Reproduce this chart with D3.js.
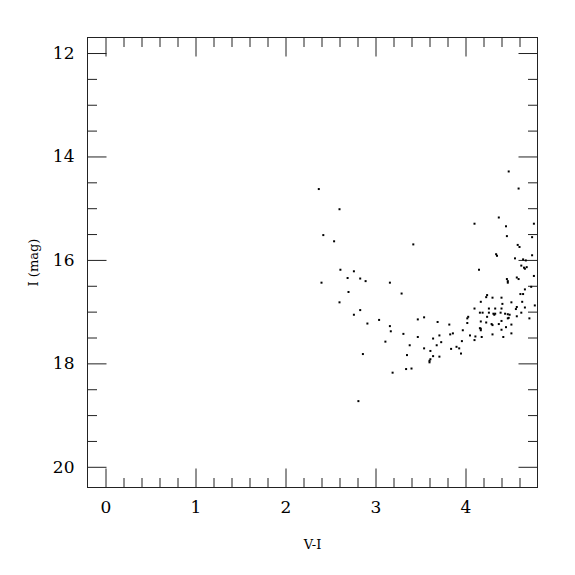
<!DOCTYPE html>
<html>
<head>
<meta charset="utf-8">
<script src="https://cdn.jsdelivr.net/npm/d3@7"></script>
<style>
  body { margin: 0; background: #fff; }
  svg text { font-family: "DejaVu Serif", serif; fill: #000; }
</style>
</head>
<body>
<div id="chart"></div>
<script>
// colour index V-I and I magnitude of each star
const viColor = [
  2.37, 2.60, 2.42, 2.54, 2.61, 2.76, 2.69, 2.83, 2.40, 2.89, 3.16, 2.70, 3.29, 2.60, 2.83,
  2.76, 2.91, 3.04, 3.16, 3.17, 3.31, 3.11, 3.38, 3.35, 2.86, 3.34, 3.19, 2.81, 3.40,
  4.48, 4.59, 4.37, 4.10, 4.45, 4.76, 4.46, 4.74, 3.42, 4.58, 4.60, 4.34, 4.35, 4.74, 4.55,
  4.64, 4.67, 4.62, 4.65, 4.68, 4.66, 4.15, 4.76, 4.46, 4.47, 4.47, 4.57, 4.59,
  4.73, 4.66, 4.61, 4.64, 4.24, 4.23, 4.30, 4.40, 4.51, 4.63, 4.17, 4.77, 4.41, 4.10, 4.26,
  4.40, 4.33, 4.57, 4.56, 4.66, 4.26, 4.16, 4.19, 4.62, 4.31, 4.32, 4.33, 4.39, 4.44, 4.47,
  4.49, 4.57, 4.03, 4.02, 4.24, 4.47, 4.48, 4.71, 4.17, 4.23, 4.29, 4.30, 4.37, 4.40, 4.45,
  4.51, 4.16, 4.17, 4.17, 4.40, 3.97, 4.51, 4.05, 4.11, 4.18, 4.30, 4.42, 4.10, 4.02, 3.96,
  3.90, 3.93, 3.95,
  3.82, 3.69, 3.54, 3.47, 3.86, 3.83, 3.71, 3.47, 3.64, 3.73, 3.68, 3.54, 3.84, 3.61, 3.64,
  3.71, 3.61, 3.60, 3.60
];
const iMag = [
  14.63, 15.02, 15.52, 15.64, 16.19, 16.22, 16.35, 16.36, 16.44, 16.41, 16.44, 16.62, 16.65, 16.82, 16.97,
  17.06, 17.23, 17.16, 17.28, 17.38, 17.43, 17.58, 17.65, 17.84, 17.82, 18.11, 18.18, 18.73, 18.10,
  14.29, 14.62, 15.18, 15.30, 15.35, 15.30, 15.54, 15.56, 15.70, 15.71, 15.75, 15.89, 15.92, 15.91, 15.97,
  15.99, 16.01, 16.11, 16.15, 16.14, 16.17, 16.19, 16.31, 16.37, 16.41, 16.44, 16.34, 16.37,
  16.52, 16.57, 16.66, 16.66, 16.68, 16.72, 16.73, 16.73, 16.82, 16.81, 16.81, 16.88, 16.85, 16.94, 16.94,
  16.94, 16.94, 16.91, 16.95, 16.92, 17.02, 17.02, 17.02, 17.02, 17.04, 17.06, 17.04, 17.02, 17.04, 17.05,
  17.06, 17.09, 17.10, 17.13, 17.10, 17.13, 17.12, 17.13, 17.19, 17.21, 17.24, 17.26, 17.24, 17.18, 17.30,
  17.25, 17.32, 17.33, 17.36, 17.35, 17.36, 17.42, 17.46, 17.48, 17.49, 17.44, 17.49, 17.55, 17.22, 17.57,
  17.68, 17.71, 17.81,
  17.25, 17.20, 17.11, 17.15, 17.42, 17.44, 17.46, 17.49, 17.52, 17.59, 17.65, 17.71, 17.72, 17.76, 17.86,
  17.87, 17.92, 17.95, 17.98
];
const xLabels = [0, 1, 2, 3, 4];
const yLabels = [12, 14, 16, 18, 20];

function init() {
    const W = 575, H = 575;
    const left = 87.5, right = 537.5, top = 37.5, bottom = 487.5;

    const svg = d3.select("#chart").append("svg")
        .attr("width", W)
        .attr("height", H);

    const x = d3.scaleLinear().domain([-0.2, 4.8]).range([left, right]);
    const y = d3.scaleLinear().domain([11.7, 20.4]).range([top, bottom]);

    const xMinor = d3.range(-0.2, 4.81, 0.2).map(v => +v.toFixed(1))
        .filter(v => v > -0.2 && v < 4.8 && !xLabels.includes(v));
    const yMinor = d3.range(11.5, 20.41, 0.5)
        .filter(v => v > 11.7 && v < 20.4 && !yLabels.includes(v));

    const major = 19, minor = 9.5;

    function drawAxis(gen, pos, vals, size, labels) {
        const g = svg.append("g")
            .attr("transform", pos)
            .call(gen.tickValues(vals).tickSize(size).tickSizeOuter(0)
                .tickPadding(labels ? 13 : 0)
                .tickFormat(labels ? d3.format("d") : ""));
        g.select(".domain").remove();
        g.selectAll("line").attr("stroke", "#222").attr("stroke-width", 1);
        g.selectAll("text").style("font-size", "17px")
            .style("font-family", "'DejaVu Serif', serif");
        return g;
    }

    // bottom / top
    drawAxis(d3.axisBottom(x), `translate(0,${bottom})`, xLabels, -major, true);
    drawAxis(d3.axisBottom(x), `translate(0,${bottom})`, xMinor, -minor, false);
    drawAxis(d3.axisTop(x), `translate(0,${top})`, xLabels, -major, false);
    drawAxis(d3.axisTop(x), `translate(0,${top})`, xMinor, -minor, false);
    // left / right
    drawAxis(d3.axisLeft(y), `translate(${left},0)`, yLabels, -major, true);
    drawAxis(d3.axisLeft(y), `translate(${left},0)`, yMinor, -minor, false);
    drawAxis(d3.axisRight(y), `translate(${right},0)`, yLabels, -major, false);
    drawAxis(d3.axisRight(y), `translate(${right},0)`, yMinor, -minor, false);

    // frame
    svg.append("rect")
        .attr("x", left).attr("y", top)
        .attr("width", right - left).attr("height", bottom - top)
        .attr("fill", "none")
        .attr("stroke", "#222")
        .attr("stroke-width", 1);

    // the stars
    const pts = viColor.map((v, i) => ({ vi: v, mag: iMag[i] }));
    svg.append("g")
        .selectAll("rect")
        .data(pts)
        .join("rect")
        .attr("x", d => x(d.vi) - 1)
        .attr("y", d => y(d.mag) - 1)
        .attr("width", 2)
        .attr("height", 2)
        .attr("fill", "#000");

    // axis titles
    svg.append("text")
        .attr("x", (left + right) / 2)
        .attr("y", 549)
        .attr("text-anchor", "middle")
        .style("font-size", "13px")
        .text("V-I");

    svg.append("text")
        .attr("transform", `translate(38,${(top + bottom) / 2}) rotate(-90)`)
        .attr("text-anchor", "middle")
        .style("font-size", "13px")
        .text("I (mag)");
}

window.addEventListener('load', init);
</script>
</body>
</html>
